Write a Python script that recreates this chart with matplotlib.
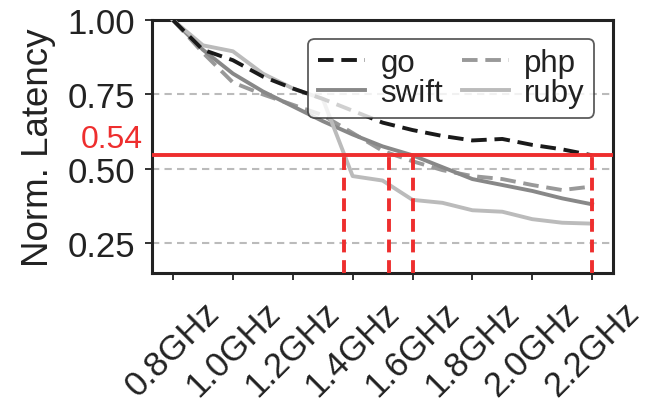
import matplotlib
matplotlib.use("Agg")
import matplotlib.pyplot as plt

plt.rcParams['font.family'] = ['Liberation Sans', 'DejaVu Sans']

# frequencies (GHz) and normalised latency per language
freqs = [0.8, 0.9, 1.0, 1.1, 1.2, 1.3, 1.4, 1.5, 1.6, 1.7, 1.8, 1.9, 2.0, 2.1, 2.2]
go = [1.00, 0.90, 0.865, 0.81, 0.77, 0.735, 0.695, 0.655, 0.63, 0.61, 0.595, 0.60, 0.58, 0.565, 0.545]
php = [1.00, 0.89, 0.79, 0.75, 0.715, 0.68, 0.62, 0.56, 0.525, 0.495, 0.475, 0.465, 0.445, 0.428, 0.44]
swift = [1.00, 0.90, 0.82, 0.76, 0.71, 0.66, 0.615, 0.575, 0.545, 0.505, 0.465, 0.445, 0.425, 0.40, 0.38]
ruby = [1.00, 0.915, 0.895, 0.82, 0.77, 0.735, 0.475, 0.46, 0.395, 0.385, 0.36, 0.355, 0.33, 0.318, 0.315]

tick_freqs = [0.8, 1.0, 1.2, 1.4, 1.6, 1.8, 2.0, 2.2]
tick_labels = ["0.8GHz", "1.0GHz", "1.2GHz", "1.4GHz", "1.6GHz", "1.8GHz", "2.0GHz", "2.2GHz"]

threshold = 0.545
threshold_label = "0.54"
cross_freqs = [1.372, 1.522, 1.603, 2.2]

red = "#ee2e2e"
ink = "#222222"

fig = plt.figure(figsize=(6.46, 4.06), dpi=100)
ax = fig.add_axes([0.235, 0.326, 0.714, 0.622])

l_go, = ax.plot(freqs, go, color="#1a1a1a", lw=2.8, ls=(0, (4, 2)), label="go", zorder=4)
l_php, = ax.plot(freqs, php, color="#999999", lw=2.8, ls=(0, (4, 2)), label="php", zorder=3)
l_swift, = ax.plot(freqs, swift, color="#888888", lw=2.8, label="swift", zorder=3)
l_ruby, = ax.plot(freqs, ruby, color="#bbbbbb", lw=2.8, label="ruby", zorder=3)

ax.axhline(threshold, color=red, lw=2.8, zorder=5)
for f in cross_freqs:
    ax.plot([f, f], [0.15, threshold], color=red, lw=2.8, ls=(0, (3.3, 2)), zorder=5)

ax.text(-0.02, threshold + 0.005, threshold_label, color=red, fontsize=23,
        ha="right", va="bottom", transform=ax.get_yaxis_transform())

ax.set_xlim(0.729, 2.27)
ax.set_ylim(0.15, 1.0)
ax.set_yticks([0.25, 0.50, 0.75, 1.00])
ax.set_yticklabels(["0.25", "0.50", "0.75", "1.00"])
ax.set_xticks(tick_freqs)
ax.set_xticklabels(tick_labels, rotation=45)

for y in [0.25, 0.50, 0.75]:
    ax.axhline(y, color="#bbbbbb", lw=1.5, ls=(0, (3.5, 2.5)), zorder=1)

ax.tick_params(axis="both", length=5, width=1.3, direction="out", colors=ink)
ax.tick_params(axis="y", labelsize=25, pad=7)
ax.tick_params(axis="x", labelsize=25, pad=11)
for s in ax.spines.values():
    s.set_linewidth(2.2)
    s.set_color(ink)

ax.set_ylabel("Norm. Latency", fontsize=26.5, color=ink, labelpad=8)

# order so that rows read: go php / swift ruby
leg = ax.legend([l_go, l_swift, l_php, l_ruby], ["go", "swift", "php", "ruby"],
                ncol=2, loc="upper right", fontsize=22.5, handlelength=1.5,
                handletextpad=0.5, columnspacing=0.6, labelspacing=0.0,
                borderpad=0.3, borderaxespad=0.6, framealpha=0.8, fancybox=True)
leg.get_frame().set_edgecolor("#333333")
leg.get_frame().set_linewidth(1.3)
for t in leg.get_texts():
    t.set_color(ink)

fig.savefig("out.png", dpi=100)
